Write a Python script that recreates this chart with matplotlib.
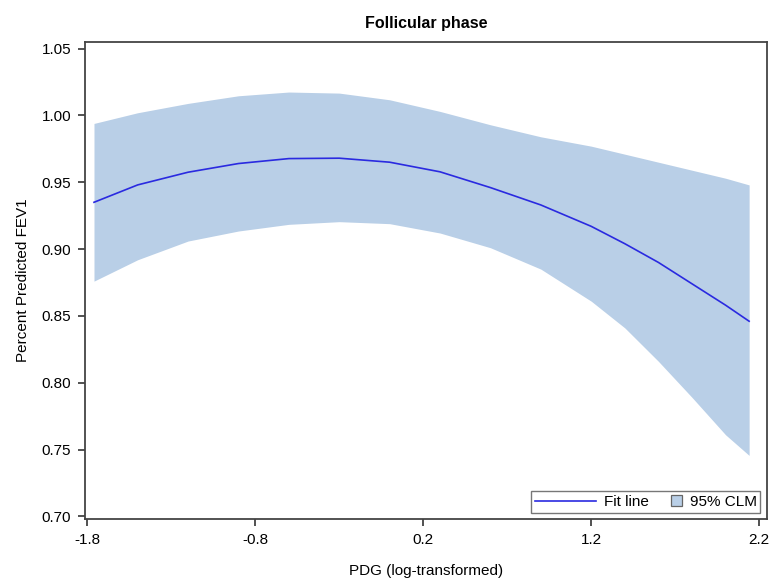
import matplotlib
matplotlib.use("Agg")
import matplotlib.pyplot as plt
from matplotlib.patches import Patch, Rectangle
from matplotlib.lines import Line2D
from matplotlib.legend_handler import HandlerPatch

plt.rcParams['font.family'] = ['Liberation Sans', 'DejaVu Sans']

# values
pdg = [-1.76, -1.5, -1.2, -0.9, -0.6, -0.3, 0.0, 0.3, 0.6, 0.9,
       1.2, 1.4, 1.6, 1.8, 2.0, 2.14]
fit = [0.935, 0.948, 0.9575, 0.964, 0.9677, 0.968, 0.965, 0.9578, 0.946, 0.933,
       0.917, 0.904, 0.890, 0.874, 0.858, 0.846]
upper = [0.994, 1.002, 1.009, 1.0147, 1.0175, 1.0167, 1.0117, 1.003, 0.993, 0.984,
         0.977, 0.971, 0.965, 0.959, 0.953, 0.948]
lower = [0.876, 0.892, 0.906, 0.9135, 0.9185, 0.9205, 0.919, 0.912, 0.901, 0.885,
         0.861, 0.841, 0.816, 0.789, 0.761, 0.7456]

xticks = [-1.8, -0.8, 0.2, 1.2, 2.2]
yticks = [0.70, 0.75, 0.80, 0.85, 0.90, 0.95, 1.00, 1.05]

band_color = '#b9cfe7'
line_color = '#2a2ae0'


def small_square(legend, orig_handle, xdescent, ydescent, width, height, fontsize):
    # square at the right end of the handle box
    s = 1.0 * height
    return Rectangle((width - s - xdescent, (height - s) / 2 - ydescent), s, s)


fig = plt.figure(figsize=(7.72, 5.79), dpi=100)
ax = fig.add_axes([0.110, 0.1036, 0.883, 0.824])

ax.fill_between(pdg, lower, upper, color=band_color, linewidth=0)
ax.plot(pdg, fit, color=line_color, linewidth=1.2)

ax.set_xlim(-1.814, 2.244)
ax.set_ylim(0.698, 1.055)
ax.set_xticks(xticks)
ax.set_xticklabels([f"{t:.1f}" for t in xticks])
ax.set_yticks(yticks)
ax.set_yticklabels([f"{t:.2f}" for t in yticks])
ax.tick_params(direction='out', length=5, width=1.2, labelsize=11, colors='#333333',
               labelcolor='black', pad=5)
for s in ax.spines.values():
    s.set_color('#444444')
    s.set_linewidth(1.3)

ax.set_title("Follicular phase", fontsize=11.5, fontweight='bold', pad=10)
ax.set_xlabel("PDG (log-transformed)", fontsize=11, labelpad=12)
ax.set_ylabel("Percent Predicted FEV1", fontsize=11, labelpad=8)

handles = [Line2D([0], [0], color=line_color, linewidth=1.2),
           Patch(facecolor=band_color, edgecolor='#666666', linewidth=0.9)]
leg = ax.legend(handles, ["Fit line", "95% CLM"], loc='lower right', ncol=2,
                fontsize=11, frameon=True, fancybox=False, handlelength=4,
                handletextpad=0.5, columnspacing=-1.8, borderpad=0.25,
                borderaxespad=0.4,
                handler_map={Patch: HandlerPatch(patch_func=small_square)})
leg.get_frame().set_edgecolor('#555555')
leg.get_frame().set_linewidth(1.0)

fig.savefig("out.png", dpi=100)
